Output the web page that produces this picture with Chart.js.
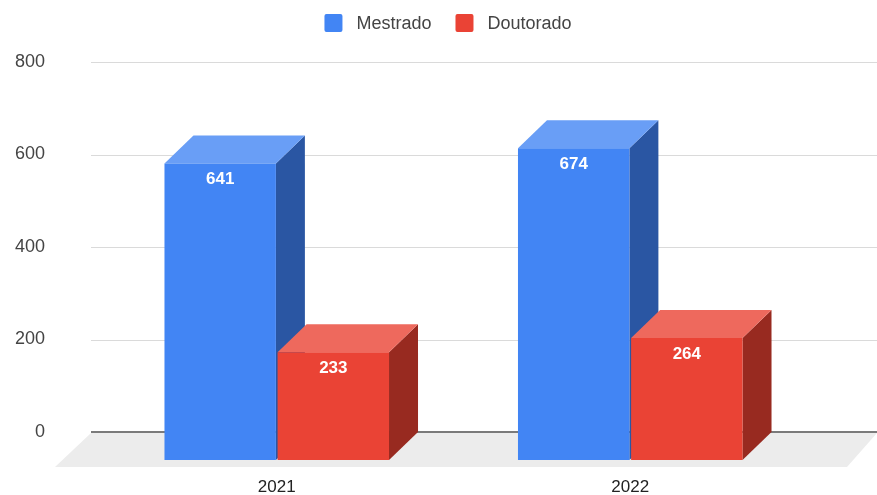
<!DOCTYPE html>
<html>
<head>
<meta charset="utf-8">
<script src="https://cdn.jsdelivr.net/npm/chart.js@4"></script>
<style>
  html, body { margin: 0; padding: 0; background: #fff; }
</style>
</head>
<body>
<canvas id="chart" width="877" height="495"></canvas>
<script>
const years = ["2021", "2022"];
const mestrado = [641, 674];
const doutorado = [233, 264];
const yTicks = [0, 200, 400, 600, 800];

const seriesNames = ["Mestrado", "Doutorado"];
const frontColors = ["#4285f4", "#ea4335"];
const topColors = ["#699ef6", "#ee695d"];
const sideColors = ["#2a56a3", "#982a20"];

// depth of the 3d boxes (front face is pushed left/down)
const DX = 29, DY = 28;
const FONT = '"Liberation Sans", Arial, sans-serif';

const bar3d = {
  id: "bar3d",
  beforeDatasetsDraw(chart) {
    const { ctx, scales: { x, y } } = chart;
    const zeroY = Math.round(y.getPixelForValue(0));
    const gl = 91, gr = 877;

    ctx.save();
    // grid lines (back wall)
    ctx.strokeStyle = "#dadada";
    ctx.lineWidth = 1;
    yTicks.forEach(v => {
      if (v === 0) return;
      const py = Math.round(y.getPixelForValue(v)) + 0.5;
      ctx.beginPath();
      ctx.moveTo(gl, py);
      ctx.lineTo(gr, py);
      ctx.stroke();
    });
    // floor
    ctx.fillStyle = "#ececec";
    ctx.beginPath();
    ctx.moveTo(gl, zeroY + 1);
    ctx.lineTo(gr, zeroY + 1);
    ctx.lineTo(gr - 30, zeroY + 35);
    ctx.lineTo(gl - 36, zeroY + 35);
    ctx.closePath();
    ctx.fill();
    // zero line
    ctx.strokeStyle = "#7a7a7a";
    ctx.lineWidth = 2;
    ctx.beginPath();
    ctx.moveTo(gl, zeroY);
    ctx.lineTo(gr, zeroY);
    ctx.stroke();
    ctx.restore();

    // everything from here on is in the front plane
    ctx.save();
    ctx.translate(-DX, DY);
    years.forEach((_, i) => {
      chart.data.datasets.forEach((ds, d) => {
        const bar = chart.getDatasetMeta(d).data[i];
        const l = bar.x - bar.width / 2, r = bar.x + bar.width / 2;
        const t = bar.y, b = bar.base;
        // side
        ctx.fillStyle = sideColors[d];
        ctx.beginPath();
        ctx.moveTo(r, t);
        ctx.lineTo(r + DX, t - DY);
        ctx.lineTo(r + DX, b - DY);
        ctx.lineTo(r, b);
        ctx.closePath();
        ctx.fill();
        // top
        ctx.fillStyle = topColors[d];
        ctx.beginPath();
        ctx.moveTo(l, t);
        ctx.lineTo(l + DX, t - DY);
        ctx.lineTo(r + DX, t - DY);
        ctx.lineTo(r, t);
        ctx.closePath();
        ctx.fill();
      });
    });
  },
  afterDatasetsDraw(chart) {
    const { ctx } = chart;
    // value labels on the front faces
    ctx.fillStyle = "#ffffff";
    ctx.font = "bold 17px " + FONT;
    ctx.textAlign = "center";
    ctx.textBaseline = "middle";
    chart.data.datasets.forEach((ds, d) => {
      chart.getDatasetMeta(d).data.forEach((bar, i) => {
        ctx.fillText(String(ds.data[i]), bar.x, bar.y + 16);
      });
    });
    ctx.restore();

    // category labels under the front faces
    const x = chart.scales.x;
    ctx.save();
    ctx.fillStyle = "#222";
    ctx.font = "17px " + FONT;
    ctx.textAlign = "center";
    ctx.textBaseline = "middle";
    years.forEach((yr, i) => {
      ctx.fillText(yr, x.getPixelForValue(i) - DX, 487);
    });
    ctx.restore();
  },
  afterDraw(chart) {
    // legend
    const { ctx } = chart;
    ctx.save();
    ctx.font = "18px " + FONT;
    ctx.textBaseline = "middle";
    const box = 18, gap = 14, between = 24;
    const widths = seriesNames.map(n => ctx.measureText(n).width);
    const total = widths.reduce((a, w) => a + box + gap + w, 0) + between;
    let cx = 448 - total / 2;
    const cy = 23;
    seriesNames.forEach((name, d) => {
      ctx.fillStyle = frontColors[d];
      ctx.beginPath();
      ctx.roundRect(cx, cy - box / 2, box, box, 2);
      ctx.fill();
      ctx.fillStyle = "#444";
      ctx.fillText(name, cx + box + gap, cy + 1);
      cx += box + gap + widths[d] + between;
    });
    ctx.restore();
  }
};

new Chart(document.getElementById("chart"), {
  type: "bar",
  data: {
    labels: years,
    datasets: [
      { label: seriesNames[0], data: mestrado, backgroundColor: frontColors[0] },
      { label: seriesNames[1], data: doutorado, backgroundColor: frontColors[1] }
    ].map(ds => Object.assign(ds, {
      borderWidth: 0,
      clip: false,
      categoryPercentage: 0.64,
      barPercentage: 0.985
    }))
  },
  options: {
    responsive: false,
    animation: false,
    layout: { padding: { top: 62, right: 41, left: 0, bottom: 0 } },
    plugins: {
      legend: { display: false },
      tooltip: { enabled: false }
    },
    scales: {
      x: {
        ticks: { display: false },
        grid: { display: false, drawTicks: false },
        border: { display: false },
        afterFit(s) { s.height = 63; }
      },
      y: {
        min: 0,
        max: 800,
        ticks: {
          stepSize: 200,
          padding: 84,
          color: "#444",
          font: { size: 18, family: FONT }
        },
        grid: { display: false, drawTicks: false },
        border: { display: false },
        afterFit(s) {
          s.width = 129;
          // big label padding would otherwise push the plot area down
          s.paddingTop = 10;
          s.paddingBottom = 10;
        }
      }
    }
  },
  plugins: [bar3d]
});
</script>
</body>
</html>
